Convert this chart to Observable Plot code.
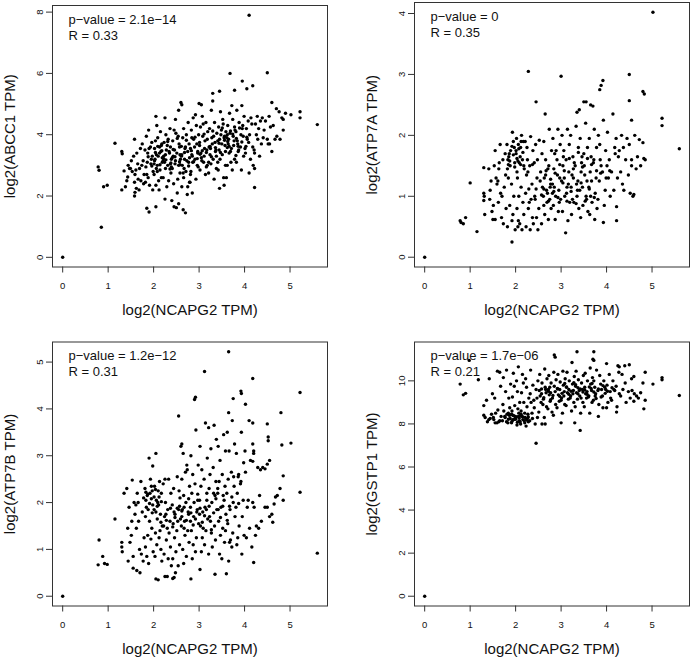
<!DOCTYPE html>
<html>
<head>
<meta charset="utf-8">
<script src="https://cdn.jsdelivr.net/npm/d3@7"></script>
<script src="https://cdn.jsdelivr.net/npm/@observablehq/plot@0.6"></script>
<style>
  body { margin: 0; background: #fff; }
  #grid { display: grid; grid-template-columns: 346px 346px; grid-template-rows: 330px 327px; width: 692px; height: 657px; }
  #grid svg { display: block; }
</style>
</head>
<body>
<div id="grid"></div>
<script>
// Correlation of NCAPG2 expression with four transporter / detox genes (log2 TPM)
const xLabel = "log2(NCAPG2 TPM)";
const xTicks = [0, 1, 2, 3, 4, 5];
const genes = ["ABCC1", "ATP7A", "ATP7B", "GSTP1"];
const pValues = ["2.1e\u221214", "0", "1.2e\u221212", "1.7e\u221206"];
const rValues = ["0.33", "0.35", "0.31", "0.21"];
const yTicks = [[0, 2, 4, 6, 8], [0, 1, 2, 3, 4], [0, 1, 2, 3, 4, 5], [0, 2, 4, 6, 8, 10]];

// [log2 NCAPG2, log2 gene] per sample
const abcc1 = [
  [0,0],[0.85,0.98],[0.78,2.95],[0.8,2.84],[0.9,2.3],[0.98,2.35],[1.15,3.72],[1.3,3.45],[1.31,3.38],[1.3,2.2],[1.35,2.82],[1.38,2.3],[1.58,3.85],[1.58,2.0],[1.59,2.12],[1.85,1.6],[1.9,1.48],[2.05,1.65],[2.05,4.6],[2.25,1.9],[2.4,1.85],[2.45,1.65],[2.5,1.62],[2.55,1.75],[2.65,1.55],[2.7,1.45],[2.48,4.5],[2.55,4.8],[2.6,5.05],[2.62,4.98],[3.0,5.02],[3.05,4.98],[3.3,5.35],[3.3,5.1],[3.45,5.42],[3.68,6.0],[3.95,5.75],[3.78,5.45],[4.05,5.5],[4.18,5.6],[4.1,7.9],[4.5,6.02],[4.6,5.05],[4.7,4.85],[5.02,4.65],[5.22,4.75],[5.22,4.55],[5.6,4.33],[4.85,4.5],[4.82,4.55],[4.85,4.15],[4.78,3.85],[4.6,3.45],[4.5,3.85],[4.55,3.7],[4.22,2.28],[4.22,2.9],[4.1,2.75],[3.55,2.35],[3.45,2.25],[3.6,2.6],[2.85,2.1],[2.75,2.3],[2.8,2.45],
  [1.47,2.9],[1.53,2.8],[1.41,2.5],[1.58,2.45],[1.44,3.0],[1.56,3.3],[1.49,2.9],[1.59,2.7],[1.43,2.62],[1.51,3.15],
  [1.74,3.0],[1.61,2.85],[1.79,2.7],[1.66,2.55],[1.63,3.4],[1.71,3.55],[1.68,2.2],[1.62,2.25],[1.77,3.15],[1.69,2.9],[1.75,3.7],[1.72,2.5],[1.65,3.05],[1.78,2.4],
  [1.93,3.6],[1.81,3.5],[1.97,3.3],[1.86,3.1],[1.83,2.95],[1.99,2.8],[1.88,2.6],[1.82,2.45],[1.91,2.35],[1.96,3.75],[1.84,3.95],[1.89,4.15],[1.95,3.2],[1.87,3.4],[1.98,2.2],[1.85,2.7],[1.94,3.05],[1.9,3.55],
  [2.12,2.2],[2.05,2.35],[2.17,2.6],[2.01,2.7],[2.14,2.85],[2.08,3.0],[2.19,3.1],[2.03,3.2],[2.1,3.3],[2.06,3.35],[2.16,3.45],[2.02,3.55],[2.13,3.6],[2.18,3.7],[2.04,3.8],[2.09,3.9],[2.15,4.1],[2.07,4.3],[2.11,2.5],[2.19,3.25],[2.01,3.05],[2.06,2.9],[2.13,3.4],[2.17,3.65],[2.08,2.8],[2.02,3.15],
  [2.33,2.5],[2.21,2.6],[2.38,2.75],[2.26,2.9],[2.31,3.0],[2.24,3.1],[2.39,3.2],[2.22,3.3],[2.35,3.4],[2.28,3.5],[2.37,3.6],[2.23,3.75],[2.32,3.85],[2.27,4.0],[2.36,4.2],[2.25,4.55],[2.29,2.3],[2.21,3.15],[2.34,3.45],[2.39,2.95],[2.3,3.65],[2.26,3.35],[2.37,3.05],
  [2.52,2.1],[2.44,2.4],[2.58,2.75],[2.41,2.9],[2.55,3.0],[2.47,3.05],[2.59,3.2],[2.43,3.3],[2.51,3.4],[2.46,3.5],[2.57,3.6],[2.42,3.8],[2.54,3.95],[2.49,4.05],[2.45,4.15],[2.56,3.7],[2.41,3.25],[2.53,2.55],[2.48,3.15],[2.58,3.35],
  [2.74,2.05],[2.62,2.3],[2.79,2.45],[2.66,2.6],[2.71,2.8],[2.63,3.0],[2.77,3.1],[2.68,3.2],[2.61,3.3],[2.75,3.45],[2.69,3.55],[2.78,3.7],[2.64,3.9],[2.72,4.0],[2.66,4.2],[2.76,4.4],[2.62,3.35],[2.73,3.15],[2.67,2.9],[2.79,3.25],[2.7,3.6],[2.65,2.75],
  [2.93,2.55],[2.82,2.8],[2.98,2.95],[2.86,3.1],[2.91,3.2],[2.84,3.35],[2.97,3.45],[2.81,3.55],[2.95,3.7],[2.88,3.85],[2.99,4.0],[2.83,4.15],[2.94,4.3],[2.87,4.55],[2.92,4.65],[2.85,3.3],[2.96,3.0],[2.81,2.7],[2.9,3.6],[2.97,3.4],[2.84,3.9],
  [3.14,2.7],[3.02,2.85],[3.18,3.0],[3.06,3.15],[3.11,3.3],[3.04,3.4],[3.17,3.5],[3.01,3.65],[3.13,3.8],[3.08,3.95],[3.19,4.1],[3.03,4.25],[3.15,4.4],[3.07,4.6],[3.12,3.55],[3.05,3.25],[3.16,2.95],[3.09,4.35],[3.01,3.75],[3.18,3.85],[3.1,3.1],
  [3.33,2.55],[3.21,2.75],[3.38,2.9],[3.26,3.05],[3.31,3.2],[3.24,3.35],[3.37,3.5],[3.22,3.6],[3.35,3.75],[3.28,3.9],[3.39,4.05],[3.23,4.2],[3.34,4.4],[3.27,4.8],[3.36,3.45],[3.29,3.7],[3.21,3.1],[3.32,3.95],[3.25,3.55],[3.38,3.3],
  [3.54,2.6],[3.42,2.85],[3.58,3.0],[3.46,3.2],[3.51,3.35],[3.44,3.5],[3.57,3.65],[3.41,3.8],[3.55,3.9],[3.48,4.0],[3.59,4.1],[3.43,4.25],[3.52,4.5],[3.47,4.75],[3.56,3.95],[3.45,3.85],[3.5,3.7],[3.53,4.35],[3.41,3.1],[3.58,3.45],[3.49,4.15],
  [3.73,2.85],[3.62,3.0],[3.78,3.2],[3.66,3.4],[3.71,3.55],[3.64,3.7],[3.77,3.8],[3.61,3.9],[3.75,3.95],[3.68,4.05],[3.79,4.15],[3.63,4.3],[3.74,4.5],[3.67,4.7],[3.72,4.95],[3.65,3.85],[3.76,3.65],[3.69,3.45],[3.62,4.0],[3.78,4.25],[3.7,3.1],
  [3.93,2.85],[3.82,3.1],[3.98,3.3],[3.86,3.45],[3.91,3.6],[3.84,3.8],[3.97,3.95],[3.81,4.1],[3.95,4.2],[3.88,4.4],[3.99,4.6],[3.83,4.8],[3.94,4.95],[3.87,3.5],[3.92,4.0],[3.85,3.7],[3.96,4.3],
  [4.13,3.2],[4.02,3.4],[4.18,3.6],[4.06,3.85],[4.11,4.0],[4.04,4.2],[4.16,4.35],[4.08,4.45],[4.01,3.55],[4.14,4.55],[4.19,3.0],[4.09,3.75],
  [4.33,3.3],[4.21,3.5],[4.37,3.7],[4.26,4.0],[4.31,4.2],[4.24,4.35],[4.39,4.55],[4.28,4.6],[4.22,3.4],[4.35,4.45],[4.29,3.85],
  [4.52,3.7],[4.43,4.15],[4.57,4.25],[4.46,4.45],[4.54,4.6],[4.41,3.9],
  [4.71,3.95],[4.63,4.3],[4.76,4.75],[4.67,3.85],[4.9,4.7],
  [2.04,3.42],[2.22,3.22],[2.43,3.52],[2.61,3.62],[2.83,3.48],[3.02,3.36],[3.24,3.62],[3.44,3.72],[3.63,3.78],[3.82,3.88],[2.14,3.02],[2.36,2.88],[2.57,3.12],[2.77,2.98],[2.96,3.22],[3.16,3.42],[3.36,3.58],[3.56,3.82],[3.74,4.02],[3.94,3.76],[2.09,3.62],[2.31,3.78],[2.52,3.88],[2.72,3.82],[2.91,3.92],[3.11,4.02],[3.3,4.12],[3.51,4.22],[3.69,4.12],[3.89,4.22],[2.27,3.18],[2.47,3.28],[2.68,3.42],[2.88,3.12],[3.07,3.48],[3.27,3.28],[3.47,3.42],[3.66,3.62],[3.86,3.62],[4.05,3.92],[1.88,3.28],[1.96,2.98],[2.18,3.48],[2.38,3.08],[2.58,3.02],[3.62,3.58],[3.81,3.32],[4.03,3.62]
];

const atp7a = [
  [0,0],[0.78,0.6],[0.8,0.57],[0.85,0.55],[0.9,0.65],[1.0,1.22],[1.15,0.42],[1.3,1.47],[1.3,1.05],[1.31,1.0],[1.3,0.93],[1.32,0.7],[1.5,0.62],[1.55,0.62],[1.92,0.25],[2.28,3.05],[3.0,2.97],[2.45,2.55],[2.65,2.35],[3.1,0.4],[3.35,2.38],[3.4,2.42],[3.5,2.55],[3.55,2.55],[3.65,2.5],[3.7,2.48],[3.85,2.75],[3.88,2.82],[3.92,2.9],[4.5,3.0],[4.5,2.57],[4.8,2.72],[4.83,2.68],[5.02,4.02],[5.22,2.28],[5.22,2.16],[5.6,1.78],[4.22,0.6],[3.93,0.57],[4.6,1.03],[4.65,1.45],[4.68,1.65],[4.82,1.62],[4.85,1.6],[4.8,1.88],[4.55,1.6],[4.55,1.5],[4.5,1.85],[4.45,1.95],[4.55,2.25],
  [1.53,1.5],[1.41,1.45],[1.57,1.3],[1.46,1.25],[1.59,1.2],[1.43,0.95],[1.51,0.85],[1.48,0.75],[1.55,1.75],[1.44,1.1],
  [1.72,1.6],[1.64,1.55],[1.78,1.35],[1.61,1.25],[1.75,1.15],[1.67,1.05],[1.62,0.9],[1.79,0.8],[1.69,0.65],[1.73,0.55],[1.77,1.7],[1.63,1.45],[1.7,1.0],[1.66,1.85],
  [1.93,2.05],[1.81,1.85],[1.97,1.8],[1.86,1.7],[1.83,1.6],[1.98,1.55],[1.88,1.5],[1.82,1.45],[1.91,1.2],[1.96,1.0],[1.87,0.85],[1.94,0.7],[1.82,0.5],[1.99,0.45],[1.85,1.65],[1.89,1.75],[1.92,0.6],[1.84,1.3],[1.95,1.9],
  [2.13,2.0],[2.02,1.95],[2.17,1.9],[2.06,1.85],[2.11,1.8],[2.01,1.7],[2.15,1.6],[2.08,1.55],[2.19,1.45],[2.04,1.3],[2.12,1.15],[2.07,1.0],[2.16,0.9],[2.03,0.8],[2.18,0.7],[2.09,0.55],[2.05,0.5],[2.14,0.45],[2.01,1.75],[2.1,1.65],[2.18,1.5],[2.06,0.6],[2.12,1.9],[2.03,1.4],
  [2.33,1.98],[2.21,1.9],[2.38,1.75],[2.26,1.6],[2.31,1.5],[2.24,1.35],[2.36,1.2],[2.22,1.05],[2.34,0.95],[2.28,0.8],[2.37,0.65],[2.23,0.5],[2.32,0.45],[2.39,0.55],[2.27,1.4],[2.3,0.9],[2.25,1.8],
  [2.52,1.92],[2.44,1.85],[2.58,1.7],[2.41,1.55],[2.55,1.4],[2.47,1.3],[2.59,1.15],[2.43,0.95],[2.51,0.8],[2.46,0.65],[2.57,0.55],[2.49,0.45],[2.42,1.0],[2.54,1.25],[2.48,1.6],
  [2.74,2.1],[2.62,1.9],[2.79,1.75],[2.66,1.6],[2.71,1.45],[2.63,1.3],[2.77,1.2],[2.68,1.1],[2.61,1.0],[2.75,0.95],[2.69,0.9],[2.78,0.8],[2.64,0.7],[2.72,0.62],[2.66,1.35],[2.76,1.15],[2.62,0.85],[2.7,1.05],[2.73,1.5],
  [2.93,2.1],[2.82,1.95],[2.98,1.85],[2.86,1.7],[2.91,1.6],[2.84,1.45],[2.97,1.3],[2.81,1.2],[2.95,1.1],[2.88,1.0],[2.99,0.95],[2.83,0.85],[2.94,0.75],[2.87,0.62],[2.92,1.35],[2.85,1.15],[2.96,0.9],[2.89,1.75],[2.81,1.05],
  [3.14,2.1],[3.02,2.0],[3.18,1.85],[3.06,1.75],[3.11,1.6],[3.04,1.5],[3.17,1.4],[3.01,1.25],[3.13,1.15],[3.08,1.0],[3.19,0.9],[3.03,0.75],[3.15,0.6],[3.07,1.3],[3.12,1.05],[3.05,1.65],[3.16,1.2],
  [3.33,2.15],[3.21,2.0],[3.38,1.8],[3.26,1.65],[3.31,1.5],[3.24,1.35],[3.37,1.25],[3.22,1.15],[3.35,1.0],[3.28,0.9],[3.39,0.8],[3.23,0.7],[3.34,1.2],[3.27,1.3],[3.36,1.1],[3.29,1.55],[3.25,0.95],
  [3.54,2.2],[3.42,1.95],[3.58,1.8],[3.46,1.65],[3.51,1.5],[3.44,1.4],[3.57,1.25],[3.41,1.1],[3.55,1.0],[3.48,0.85],[3.59,0.75],[3.43,0.65],[3.52,1.35],[3.47,1.15],[3.45,1.55],[3.56,0.95],[3.5,1.7],
  [3.73,2.1],[3.62,1.95],[3.78,1.8],[3.66,1.65],[3.71,1.55],[3.64,1.4],[3.77,1.3],[3.61,1.15],[3.75,1.05],[3.68,0.9],[3.79,0.8],[3.63,0.7],[3.74,0.62],[3.67,1.25],[3.72,1.6],[3.65,1.0],
  [3.93,2.25],[3.82,2.0],[3.98,1.75],[3.86,1.6],[3.91,1.4],[3.84,1.25],[3.97,1.1],[3.81,0.95],[3.95,0.85],[3.88,1.5],[3.99,1.3],[3.85,1.85],
  [4.14,2.35],[4.02,2.05],[4.18,1.8],[4.06,1.6],[4.11,1.4],[4.04,1.3],[4.16,1.1],[4.08,1.0],[4.19,1.7],[4.01,1.5],
  [4.33,2.0],[4.21,1.95],[4.37,1.8],[4.26,1.65],[4.31,1.4],[4.24,1.3],[4.38,1.1],[4.22,0.83],[4.35,1.2],[4.28,1.75],
  [4.42,1.6],[4.48,1.35],[4.52,1.05],[4.58,1.0],[4.62,2.0],[4.72,1.93],[4.75,1.5],
  [1.87,1.58],[1.95,1.68],[2.03,1.62],[2.07,1.78],[1.92,1.82],[2.11,1.52],[1.98,1.48],[2.16,1.72],[1.84,1.52],[2.05,1.58],[2.62,1.12],[2.84,1.08],[3.04,1.22],[3.22,1.08],[3.44,1.22],[3.62,1.12],[2.72,0.92],[2.93,0.98],[3.13,0.92],[3.33,0.88],[3.53,0.92],[3.73,0.98],[2.67,1.42],[2.87,1.38],[3.07,1.42],[3.27,1.45],[3.47,1.48],[3.67,1.52],[3.87,1.38],[2.57,1.02],[2.77,1.28],[2.97,1.52],[3.18,1.62],[3.38,1.72],[3.58,1.62],[3.78,1.42],[2.37,1.52],[2.45,1.12],[2.29,1.12],[4.07,1.42]
];

const atp7b = [
  [0,0],[0.78,0.67],[0.8,1.2],[0.88,0.85],[0.92,0.7],[0.98,0.68],[1.15,1.65],[1.3,1.15],[1.3,1.05],[1.31,0.95],[1.35,2.2],[1.55,0.6],[2.05,0.37],[2.1,0.35],[2.25,0.42],[2.3,0.42],[2.42,0.38],[2.45,0.4],[2.82,0.37],[3.02,0.57],[3.35,0.47],[3.6,0.48],[2.55,3.85],[2.9,4.2],[2.92,4.25],[3.12,4.8],[3.65,5.22],[4.18,4.65],[3.92,4.38],[3.93,4.33],[3.75,4.22],[4.02,4.1],[3.65,3.92],[4.8,3.92],[5.22,4.35],[5.22,2.22],[5.02,3.27],[5.6,0.92],[4.2,0.72],[4.5,3.68],[4.52,3.4],[4.52,3.32],[4.85,2.57],[4.85,2.05],[4.78,2.3],[4.72,2.15],[4.6,1.75],[4.62,1.58],[4.55,1.7],[4.65,1.97],[4.45,1.9],[4.5,1.9],[4.35,2.7],[4.4,2.75],[4.45,2.72],[4.5,2.82],[4.55,2.9],[4.1,3.75],[4.18,3.7],[4.2,3.1],[4.2,3.05],[4.18,2.88],[4.18,3.25],[2.6,3.2],[2.65,3.05],[2.62,3.25],[1.9,2.95],[1.98,2.78],[2.05,3.05],[4.82,3.23],
  [1.53,2.48],[1.41,2.3],[1.57,2.0],[1.46,1.9],[1.59,1.75],[1.43,1.45],[1.51,1.3],[1.48,1.15],[1.55,0.85],[1.44,0.75],[1.52,1.6],
  [1.72,2.45],[1.64,2.2],[1.78,2.1],[1.61,1.95],[1.75,1.8],[1.67,1.6],[1.62,1.45],[1.79,1.25],[1.69,1.0],[1.73,0.9],[1.77,0.75],[1.63,0.55],[1.7,0.5],[1.66,2.0],
  [1.93,2.5],[1.81,2.3],[1.97,2.25],[1.86,2.15],[1.83,2.05],[1.98,1.95],[1.88,1.85],[1.82,1.7],[1.91,1.6],[1.96,1.45],[1.87,1.3],[1.94,1.22],[1.82,1.05],[1.99,0.95],[1.85,0.85],[1.89,0.7],[1.92,2.2],[1.84,1.9],[1.95,2.35],
  [2.13,2.45],[2.02,2.35],[2.17,2.2],[2.06,2.05],[2.11,1.95],[2.01,1.85],[2.15,1.75],[2.08,1.65],[2.19,1.5],[2.04,1.35],[2.12,1.25],[2.07,1.1],[2.16,1.0],[2.03,0.85],[2.18,0.75],[2.09,2.0],[2.05,1.8],[2.14,1.4],[2.1,2.25],
  [2.33,2.5],[2.21,2.4],[2.38,2.2],[2.26,2.0],[2.31,1.85],[2.24,1.7],[2.36,1.6],[2.22,1.5],[2.34,1.35],[2.28,1.2],[2.37,1.05],[2.23,0.9],[2.32,0.8],[2.39,0.65],[2.27,1.75],[2.3,1.45],[2.25,2.5],
  [2.52,2.55],[2.44,2.3],[2.58,2.1],[2.41,1.95],[2.55,1.85],[2.47,1.75],[2.59,1.65],[2.43,1.55],[2.51,1.4],[2.46,1.25],[2.57,1.1],[2.49,0.95],[2.42,0.8],[2.54,0.65],[2.48,0.5],[2.56,2.25],[2.45,1.8],[2.53,1.6],
  [2.74,2.7],[2.62,2.5],[2.79,2.35],[2.66,2.15],[2.71,2.0],[2.63,1.85],[2.77,1.75],[2.68,1.6],[2.61,1.5],[2.75,1.4],[2.69,1.3],[2.78,1.15],[2.64,1.0],[2.72,0.85],[2.66,0.7],[2.76,1.8],[2.62,1.7],[2.7,2.65],[2.73,2.8],[2.67,1.9],
  [2.93,3.55],[2.82,3.0],[2.98,2.8],[2.86,2.6],[2.91,2.4],[2.84,2.2],[2.97,2.05],[2.81,1.9],[2.95,1.8],[2.88,1.7],[2.99,1.55],[2.83,1.4],[2.94,1.25],[2.87,1.1],[2.92,0.95],[2.85,0.8],[2.96,1.85],[2.89,2.0],[2.81,1.6],
  [3.14,3.7],[3.02,3.2],[3.18,2.95],[3.06,2.7],[3.11,2.5],[3.04,2.35],[3.17,2.2],[3.01,2.05],[3.13,1.9],[3.08,1.8],[3.19,1.65],[3.03,1.5],[3.15,1.4],[3.07,1.25],[3.12,1.1],[3.05,0.95],[3.16,1.85],[3.09,1.45],[3.01,1.75],
  [3.33,3.65],[3.21,3.6],[3.38,3.35],[3.26,3.15],[3.31,2.75],[3.24,2.6],[3.37,2.45],[3.22,2.3],[3.35,2.15],[3.28,2.0],[3.39,1.85],[3.23,1.7],[3.34,1.5],[3.27,1.35],[3.36,1.2],[3.29,1.05],[3.21,0.9],[3.32,2.2],[3.25,1.6],
  [3.54,3.45],[3.42,3.2],[3.58,3.1],[3.46,2.9],[3.51,2.6],[3.44,2.45],[3.57,2.35],[3.41,2.2],[3.55,2.05],[3.48,1.9],[3.59,1.75],[3.43,1.6],[3.52,1.45],[3.47,1.3],[3.56,1.15],[3.45,0.9],[3.5,0.8],[3.53,2.15],[3.41,2.3],[3.58,1.4],
  [3.73,3.75],[3.62,3.5],[3.78,3.25],[3.66,3.1],[3.71,2.65],[3.64,2.5],[3.77,2.35],[3.61,2.2],[3.75,2.0],[3.68,1.85],[3.79,1.7],[3.63,1.55],[3.74,1.35],[3.67,1.15],[3.72,1.05],[3.65,0.75],[3.76,2.55],[3.69,1.2],
  [3.93,3.5],[3.82,3.05],[3.98,2.85],[3.86,2.55],[3.91,2.4],[3.84,2.2],[3.97,2.05],[3.81,1.9],[3.95,1.7],[3.88,1.5],[3.99,1.3],[3.83,1.1],[3.94,0.9],[3.87,2.6],[3.92,2.45],[3.85,1.25],
  [4.13,2.9],[4.02,2.65],[4.18,2.0],[4.06,1.9],[4.11,1.45],[4.04,1.25],[4.16,1.05],[4.08,2.05],[4.01,3.1],
  [4.33,2.15],[4.21,1.9],[4.37,1.6],[4.26,1.5],[4.31,1.45],[4.24,1.3],[4.29,2.75],[4.68,2.12],
  [1.87,2.18],[1.95,2.08],[2.04,2.28],[2.12,2.12],[1.91,1.98],[2.08,1.92],[1.83,2.22],[2.17,2.02],[2.01,2.12],[1.97,1.78],[2.62,1.82],[2.82,1.78],[3.02,1.88],[3.22,1.92],[3.42,1.85],[2.72,1.62],[2.92,1.65],[3.12,1.72],[3.32,1.78],[3.52,1.92],[2.57,1.92],[2.77,2.08],[2.97,2.18],[3.17,2.05],[3.37,2.08],[2.67,1.45],[2.87,1.52],[3.07,1.58],[3.27,1.42],[3.47,1.68],[2.47,1.68],[2.42,1.48],[2.37,1.88],[3.67,1.92],[3.87,1.98],[3.62,1.62],[2.52,1.88],[3.72,2.12],[2.28,1.62],[2.16,1.58]
];

const gstp1 = [
  [0,0],[0.78,9.85],[0.85,9.35],[0.9,9.42],[0.98,10.95],[1.18,10.05],[1.3,8.85],[1.3,8.4],[1.42,10.1],[1.55,8.05],[1.6,10.45],[1.65,10.4],[1.8,10.5],[2.45,7.1],[3.0,8.05],[3.3,8.05],[3.42,7.7],[2.85,11.2],[2.87,11.1],[3.35,11.35],[3.72,11.35],[3.7,11.0],[3.72,10.95],[4.0,10.8],[4.5,10.75],[4.4,10.7],[4.25,10.7],[4.28,10.65],[4.6,10.2],[4.55,10.1],[4.85,10.4],[5.02,9.85],[5.22,10.15],[5.22,10.05],[5.6,9.32],[4.82,8.7],[4.22,8.55],[3.92,8.75],[4.0,8.75],[3.82,8.35],[4.85,9.1],[4.7,9.2],[4.6,9.05],[2.58,8.0],[2.65,8.0],
  [1.41,8.2],[1.33,8.3],[1.47,8.45],[1.36,9.1],[1.49,9.4],[1.38,8.1],[1.44,8.25],
  [1.63,8.1],[1.52,8.2],[1.68,8.35],[1.56,8.5],[1.61,8.65],[1.54,9.2],[1.67,9.75],[1.59,8.05],[1.51,8.3],[1.65,8.15],
  [1.83,8.05],[1.71,8.15],[1.88,8.25],[1.76,8.35],[1.81,8.45],[1.74,8.6],[1.87,8.75],[1.72,8.9],[1.85,9.2],[1.78,9.5],[1.89,9.85],[1.73,10.15],[1.84,8.5],[1.77,8.3],[1.8,8.1],[1.86,8.4],
  [2.03,7.95],[1.91,8.05],[2.08,8.15],[1.96,8.2],[2.01,8.3],[1.94,8.4],[2.07,8.5],[1.92,8.6],[2.05,8.7],[1.98,8.85],[2.09,9.0],[1.93,9.25],[2.04,9.5],[1.97,9.75],[2.02,10.0],[1.95,10.35],[2.06,10.65],[1.99,8.25],[1.91,8.45],[2.1,8.1],[2.0,8.35],[1.94,8.2],[2.06,8.35],
  [2.23,7.9],[2.11,8.0],[2.28,8.1],[2.16,8.2],[2.21,8.3],[2.14,8.35],[2.27,8.45],[2.12,8.6],[2.25,8.8],[2.18,9.0],[2.29,9.2],[2.13,9.45],[2.24,9.7],[2.17,9.9],[2.22,10.1],[2.15,10.3],[2.26,8.25],[2.19,8.15],[2.11,8.4],[2.2,8.5],
  [2.43,8.0],[2.31,8.15],[2.48,8.3],[2.36,8.5],[2.41,8.75],[2.34,9.0],[2.47,9.2],[2.32,9.4],[2.45,9.6],[2.38,9.8],[2.49,10.0],[2.33,10.5],[2.4,9.1],[2.37,8.25],
  [2.63,8.3],[2.51,8.55],[2.68,8.8],[2.56,9.0],[2.61,9.15],[2.54,9.3],[2.67,9.45],[2.52,9.55],[2.65,9.7],[2.58,9.9],[2.69,10.1],[2.53,10.3],[2.64,10.55],[2.57,9.4],[2.6,8.9],[2.66,9.6],
  [2.83,8.4],[2.71,8.7],[2.88,8.9],[2.76,9.05],[2.81,9.2],[2.74,9.35],[2.87,9.5],[2.72,9.6],[2.85,9.75],[2.78,9.9],[2.89,10.05],[2.73,10.25],[2.84,10.4],[2.77,9.45],[2.8,8.55],[2.75,9.7],
  [3.03,8.5],[2.91,8.75],[3.08,8.9],[2.96,9.05],[3.01,9.2],[2.94,9.35],[3.07,9.5],[2.92,9.65],[3.05,9.8],[2.98,9.95],[3.09,10.1],[2.93,10.3],[3.04,10.45],[2.97,9.6],[3.0,9.1],[3.06,9.3],
  [3.23,8.6],[3.11,8.85],[3.28,9.0],[3.16,9.15],[3.21,9.3],[3.14,9.45],[3.27,9.55],[3.12,9.7],[3.25,9.85],[3.18,10.0],[3.29,10.2],[3.13,10.4],[3.24,10.85],[3.17,9.6],[3.2,9.2],[3.26,9.4],
  [3.43,8.5],[3.31,8.8],[3.48,9.0],[3.36,9.15],[3.41,9.3],[3.34,9.45],[3.47,9.6],[3.32,9.75],[3.45,9.9],[3.38,10.05],[3.49,10.25],[3.33,10.45],[3.4,9.55],[3.37,9.4],[3.44,9.2],
  [3.63,8.5],[3.51,8.8],[3.68,9.0],[3.56,9.2],[3.61,9.3],[3.54,9.4],[3.67,9.55],[3.52,9.7],[3.65,9.85],[3.58,10.0],[3.69,10.15],[3.53,10.35],[3.64,10.6],[3.57,9.5],[3.6,9.25],[3.66,9.65],
  [3.83,8.9],[3.71,9.1],[3.88,9.25],[3.76,9.4],[3.81,9.55],[3.74,9.7],[3.87,9.85],[3.72,10.0],[3.85,10.25],[3.78,10.5],[3.89,9.6],[3.75,9.3],
  [4.03,9.0],[3.91,9.3],[4.08,9.5],[3.96,9.7],[4.01,9.8],[3.94,10.0],[4.06,10.3],[3.98,9.6],[4.09,9.2],
  [4.23,8.8],[4.11,9.1],[4.28,9.4],[4.16,9.6],[4.21,9.75],[4.14,10.0],[4.27,10.4],[4.18,9.55],
  [4.43,9.0],[4.31,9.3],[4.48,9.5],[4.36,9.6],[4.41,9.9],[4.34,10.3],
  [4.52,9.2],[4.61,9.4],[4.56,9.55],[4.66,9.3],[4.75,9.45],[4.8,9.9],
  [1.84,8.22],[1.92,8.12],[2.0,8.22],[2.08,8.28],[2.16,8.32],[2.24,8.18],[1.96,8.38],[2.12,8.45],[2.2,8.05],[1.88,8.42],[2.04,8.08],[2.28,8.32],[2.62,9.22],[2.82,9.32],[3.02,9.42],[3.22,9.52],[3.42,9.62],[3.62,9.72],[3.82,9.62],[4.02,9.52],[2.72,9.52],[2.92,9.62],[3.12,9.72],[3.32,9.82],[3.52,9.58],[3.72,9.48],[3.92,9.78],[2.77,9.12],[2.97,9.28],[3.17,9.38],[3.37,9.68],[3.57,9.38],[3.77,9.18],[3.97,9.42],[4.12,9.68],[3.08,9.88],[3.28,9.92],[3.48,9.48],[3.68,9.88],[2.57,9.62]
];

const series = [abcc1, atp7a, atp7b, gstp1];

// panel geometry (2 x 2 grid)
const layout = [
  {height: 330, marginTop: 5, marginBottom: 63.5, marginLeft: 52, marginRight: 19},
  {height: 330, marginTop: 2, marginBottom: 63.5, marginLeft: 68, marginRight: 3},
  {height: 327, marginTop: 11.5, marginBottom: 51.5, marginLeft: 52, marginRight: 19},
  {height: 327, marginTop: 11.5, marginBottom: 51.5, marginLeft: 68, marginRight: 3}
];

// base-graphics style axis range: data extent padded by 4% on each side
function paddedDomain(values) {
  const [lo, hi] = d3.extent(values);
  const pad = (hi - lo) * 0.04;
  return [lo - pad, hi + pad];
}

const font = "'Liberation Sans', Arial, Helvetica, sans-serif";
const grid = document.getElementById("grid");

series.forEach((data, i) => {
  const L = layout[i];
  const chart = Plot.plot({
    width: 346,
    height: L.height,
    marginTop: L.marginTop,
    marginBottom: L.marginBottom,
    marginLeft: L.marginLeft,
    marginRight: L.marginRight,
    style: {fontFamily: font, color: "#111", background: "#fff", overflow: "visible"},
    x: {domain: paddedDomain(data.map(d => d[0]))},
    y: {domain: paddedDomain(data.map(d => d[1]))},
    marks: [
      Plot.frame({stroke: "#333", strokeWidth: 1}),
      Plot.axisX({ticks: xTicks, tickSize: 6, tickPadding: 9, fontSize: 9.5, label: null, tickFormat: d => String(d), stroke: "#333"}),
      Plot.axisY({ticks: yTicks[i], tickSize: 6, tickFormat: () => "", label: null, stroke: "#333"}),
      Plot.text(yTicks[i], {y: d => d, text: d => String(d), frameAnchor: "left", dx: -13, rotate: -90, fontSize: 9.5, textAnchor: "middle", lineAnchor: "middle", fill: "#111"}),
      Plot.text([xLabel], {frameAnchor: "bottom", dy: 43, fontSize: 15, textAnchor: "middle", lineAnchor: "middle", fill: "#111"}),
      Plot.text([`log2(${genes[i]} TPM)`], {frameAnchor: "left", dx: -42, rotate: -90, fontSize: 15, textAnchor: "middle", lineAnchor: "middle", fill: "#111"}),
      Plot.dot(data, {x: d => d[0], y: d => d[1], r: 1.7, fill: "#000", stroke: null}),
      Plot.text([`p\u2212value = ${pValues[i]}`], {frameAnchor: "top-left", dx: 16, dy: 14, fontSize: 13, textAnchor: "start", lineAnchor: "middle", fill: "#111"}),
      Plot.text([`R = ${rValues[i]}`], {frameAnchor: "top-left", dx: 16, dy: 30, fontSize: 13, textAnchor: "start", lineAnchor: "middle", fill: "#111"})
    ]
  });
  grid.appendChild(chart);
});
</script>
</body>
</html>
